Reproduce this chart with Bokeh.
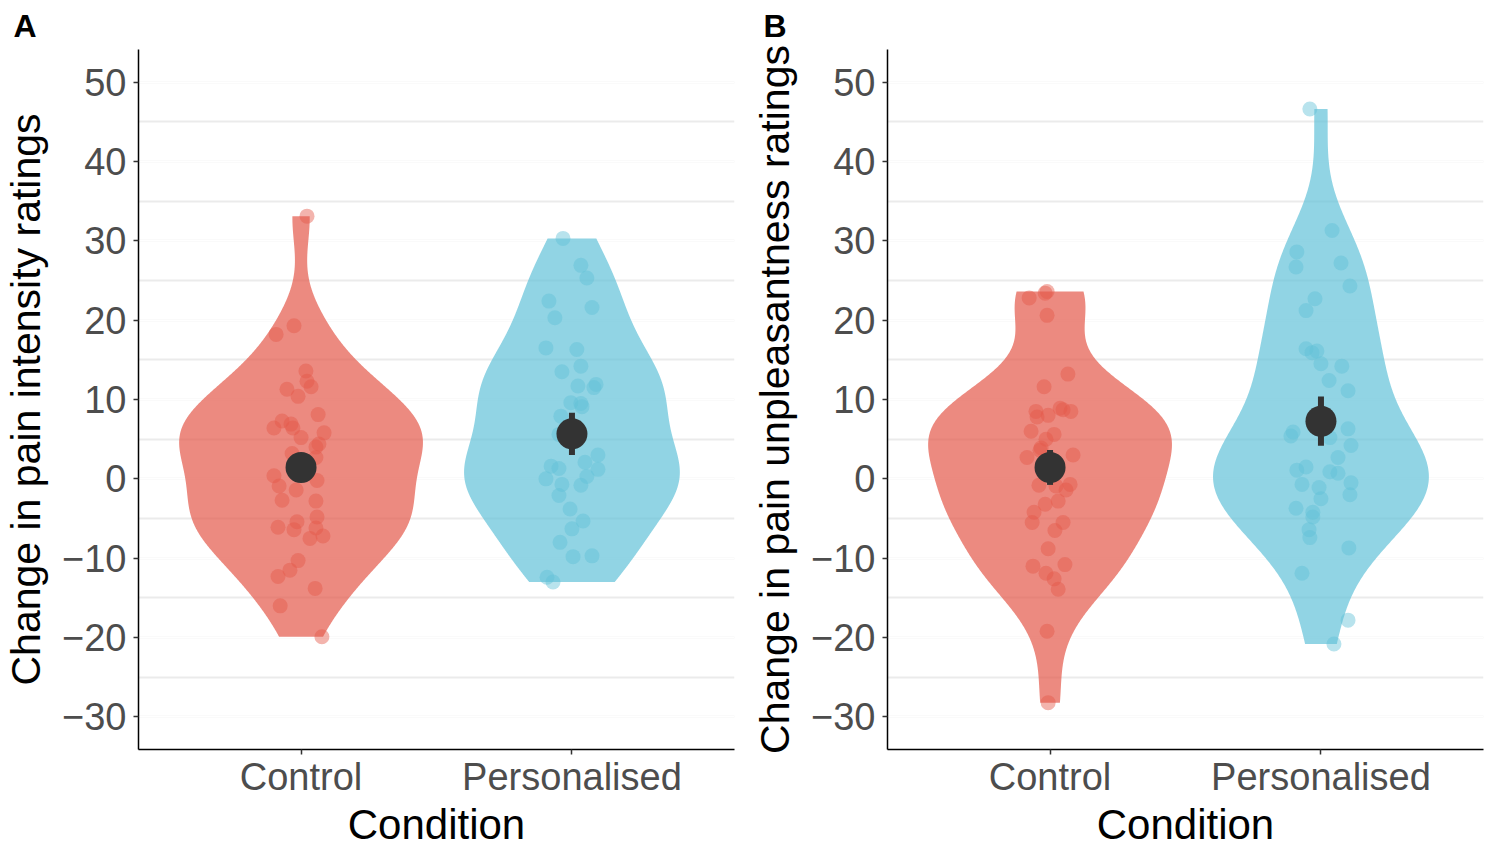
import numpy as np
from bokeh.plotting import figure
from bokeh.layouts import row
from bokeh.models import Range1d, FixedTicker, SingleIntervalTicker
from bokeh.embed import file_html
from bokeh.resources import INLINE

# ---------------- data ----------------
categories = ["Control", "Personalised"]
y_ticks = [-30, -20, -10, 0, 10, 20, 30, 40, 50]

# Panel A: change in pain intensity ratings
intensity_control = [33.1, 19.3, 18.2, 13.6, 12.3, 11.6, 11.3, 10.4, 8.1, 7.3, 6.4, 6.9, 6.4,
                     5.8, 5.2, 4.4, 4.0, 3.2, 2.7, 0.4, -0.9, -1.4, -0.2, -2.7, -2.8, -4.8,
                     -5.4, -6.1, -6.4, -6.2, -7.5, -7.2, -10.3, -11.5, -12.3, -13.8, -16.0, -19.9]
intensity_control_jitter = [0.022, -0.026, -0.092, 0.018, 0.022, 0.037, -0.052, -0.011, 0.063,
                            -0.070, -0.100, -0.037, -0.030, 0.085, 0.0, 0.066, 0.055, -0.033,
                            0.055, -0.100, -0.081, -0.018, 0.059, -0.070, 0.055, 0.059, -0.015,
                            -0.085, -0.026, 0.055, 0.033, 0.081, -0.011, -0.041, -0.085, 0.052,
                            -0.077, 0.077]
intensity_personal = [30.3, 26.9, 25.3, 22.4, 21.6, 20.3, 16.5, 16.3, 14.2, 13.5, 11.7, 11.9,
                      11.5, 9.6, 9.5, 9.1, 7.9, 5.6, 3.0, 1.6, 2.1, 1.3, 1.2, 0.0, 0.3, -0.7,
                      -0.8, -2.1, -3.8, -5.3, -6.3, -8.0, -9.8, -9.7, -12.4, -13.0]
intensity_personal_jitter = [-0.033, 0.033, 0.055, -0.085, 0.074, -0.063, -0.096, 0.018, 0.033,
                             -0.037, 0.022, 0.089, 0.081, -0.004, 0.033, 0.037, -0.041, -0.048,
                             0.096, -0.077, 0.048, -0.048, 0.096, -0.096, 0.055, -0.037, 0.033,
                             -0.048, -0.007, 0.041, 0.0, -0.044, 0.004, 0.074, -0.092, -0.070]
intensity_means = [1.44, 5.67]
intensity_errors = [1.3, 2.67]

# Panel B: change in pain unpleasantness ratings
unpleasant_control = [22.8, 23.4, 23.6, 20.6, 13.2, 11.6, 8.9, 8.7, 8.5, 8.5, 7.8, 8.0, 6.0,
                      5.6, 5.0, 3.9, 2.7, 3.0, 3.6, -0.8, -0.9, -1.4, -0.7, -2.8, -3.2, -4.2,
                      -5.5, -5.5, -6.5, -8.8, -11.0, -10.8, -11.9, -12.6, -13.9, -19.2, -28.2]
unpleasant_control_jitter = [-0.077, -0.018, -0.011, -0.011, 0.066, -0.022, 0.037, 0.048, 0.077,
                             -0.052, -0.048, -0.007, -0.070, 0.015, -0.015, -0.033, -0.085,
                             0.085, -0.037, -0.041, 0.022, 0.059, 0.074, 0.030, -0.018, -0.059,
                             -0.066, 0.048, 0.018, -0.007, -0.063, 0.055, -0.015, 0.015, 0.030,
                             -0.011, -0.007]
unpleasant_personal = [46.6, 31.3, 28.6, 26.7, 27.2, 24.3, 22.7, 21.2, 16.4, 15.9, 16.1, 14.5,
                       14.2, 12.4, 11.1, 5.9, 5.4, 6.3, 4.2, 5.2, 2.7, 1.1, 1.5, 0.9, 0.7, -0.5,
                       -0.7, -1.1, -2.0, -2.5, -3.7, -4.2, -4.8, -6.4, -7.4, -8.7, -11.9, -17.8,
                       -20.8]
unpleasant_personal_jitter = [-0.041, 0.041, -0.089, -0.092, 0.074, 0.107, -0.022, -0.055, -0.055,
                              -0.033, -0.015, 0.0, 0.077, 0.030, 0.100, -0.103, -0.111, 0.100,
                              0.111, 0.033, 0.063, -0.089, -0.055, 0.033, 0.063, 0.111, -0.070,
                              -0.007, 0.107, 0.0, -0.092, -0.030, -0.030, -0.044, -0.041, 0.103,
                              -0.070, 0.100, 0.048]
unpleasant_means = [1.44, 7.27]
unpleasant_errors = [2.2, 3.1]

COLORS = ["#E4594A", "#62C2D8"]
FONT = "Liberation Sans"
Y_LO, Y_HI = -34.1, 54.1
X_LO, X_HI = 0.4, 2.6
FRAME_W, FRAME_H = 596, 700


def kde_profile(values, n=512):
    v = np.asarray(values, dtype=float)
    sd = v.std(ddof=1)
    q75, q25 = np.percentile(v, [75, 25])
    bw = 0.9 * min(sd, (q75 - q25) / 1.34) * len(v) ** (-0.2)
    grid = np.linspace(v.min(), v.max(), n)
    dens = np.exp(-0.5 * ((grid[:, None] - v[None, :]) / bw) ** 2).sum(axis=1)
    dens /= (len(v) * bw * np.sqrt(2 * np.pi))
    return grid, dens


def make_panel(tag, ylabel, groups, jitters, means, errors, left, right, tag_offset):
    p = figure(frame_width=FRAME_W, frame_height=FRAME_H,
               min_border_left=left, min_border_right=right,
               min_border_top=49, min_border_bottom=0,
               x_range=Range1d(X_LO, X_HI), y_range=Range1d(Y_LO, Y_HI),
               output_backend="svg", toolbar_location=None)
    p.outline_line_color = None
    p.background_fill_color = "white"
    p.border_fill_color = "white"

    # panel tag
    p.title.text = tag
    p.title.align = "left"
    p.title.offset = tag_offset
    p.title.text_font = FONT
    p.title.text_font_size = "32px"
    p.title.text_font_style = "bold"
    p.title.text_color = "black"
    p.title.standoff = 11

    # axes
    yt = SingleIntervalTicker(interval=10, num_minor_ticks=2)
    p.yaxis.ticker = yt
    p.yaxis.major_label_overrides = {t: str(t).replace("-", "\u2212") for t in y_ticks}
    p.xaxis.ticker = FixedTicker(ticks=[1, 2])
    p.xaxis.major_label_overrides = {i + 1: c for i, c in enumerate(categories)}
    for ax in (p.xaxis[0], p.yaxis[0]):
        ax.axis_line_color = "black"
        ax.axis_line_width = 1.5
        ax.major_tick_line_color = "#333333"
        ax.major_tick_line_width = 1.5
        ax.major_tick_out = 5
        ax.major_tick_in = 0
        ax.minor_tick_line_color = None
        ax.major_label_text_font = FONT
        ax.major_label_text_font_size = "38px"
        ax.major_label_text_color = "#4d4d4d"
        ax.axis_label_text_font = FONT
        ax.axis_label_text_font_style = "normal"
        ax.axis_label_text_color = "black"
    p.xaxis.axis_label_text_font_size = "42px"
    p.yaxis.axis_label_text_font_size = "41px"
    p.yaxis.major_label_standoff = 7
    p.yaxis.axis_label_standoff = 10
    p.xaxis.major_label_standoff = 1
    p.xaxis.axis_label_standoff = 0
    p.yaxis.axis_label = ylabel
    p.xaxis.axis_label = "Condition"

    # grid
    p.ygrid.ticker = yt
    p.ygrid.grid_line_color = "white"
    p.ygrid.grid_line_width = 2
    p.ygrid.minor_grid_line_color = "#ebebeb"
    p.ygrid.minor_grid_line_width = 2
    p.xgrid.ticker = FixedTicker(ticks=[1, 2])
    p.xgrid.grid_line_color = "white"
    p.xgrid.grid_line_width = 2

    # violins (area-scaled, trimmed gaussian KDE)
    profiles = [kde_profile(g) for g in groups]
    dmax = max(d.max() for _, d in profiles)
    for i, (grid, dens) in enumerate(profiles):
        cx = i + 1
        hw = 0.45 * dens / dmax
        xs = np.concatenate([cx + hw, (cx - hw)[::-1]])
        ys = np.concatenate([grid, grid[::-1]])
        p.patch(xs, ys, fill_color=COLORS[i], fill_alpha=0.7, line_color=None)

    # jittered points
    for i, (g, j) in enumerate(zip(groups, jitters)):
        xs = [i + 1 + d for d in j]
        p.scatter(xs, g, size=15, fill_color=COLORS[i], fill_alpha=0.45, line_color=None)

    # mean +/- error
    cx = [i + 1 for i in range(len(groups))]
    lo = [m - e for m, e in zip(means, errors)]
    hi = [m + e for m, e in zip(means, errors)]
    p.segment(x0=cx, y0=lo, x1=cx, y1=hi, line_color="#333333", line_width=6, line_cap="butt")
    p.scatter(cx, means, size=31, fill_color="#333333", line_color=None)
    return p


pa = make_panel("A", "Change in pain intensity ratings",
                [intensity_control, intensity_personal],
                [intensity_control_jitter, intensity_personal_jitter],
                intensity_means, intensity_errors, 132, 15, -125)
pb = make_panel("B", "Change in pain unpleasantness ratings",
                [unpleasant_control, unpleasant_personal],
                [unpleasant_control_jitter, unpleasant_personal_jitter],
                unpleasant_means, unpleasant_errors, 132, 5, -124)

layout = row(pa, pb)
open("out.html", "w").write(file_html(layout, INLINE))
